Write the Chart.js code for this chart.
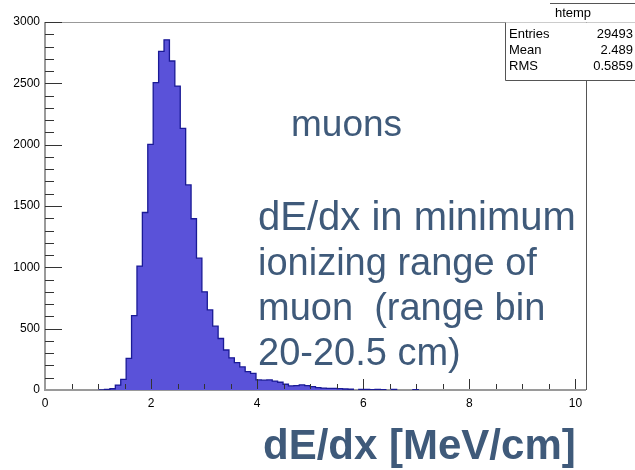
<!DOCTYPE html>
<html>
<head>
<meta charset="utf-8">
<script src="https://cdn.jsdelivr.net/npm/chart.js@4.4.1/dist/chart.umd.min.js"></script>
<style>
  body { margin: 0; background: #fff; }
  #wrap { width: 635px; height: 470px; position: relative; }
</style>
</head>
<body>
<div id="wrap"><canvas id="chart"></canvas></div>
<script>
// histogram htemp: 100 bins from 0 to 10.2
const xMin = 0;
const xMax = 10.2;
const nBins = 100;
const counts = [
    0, 0, 0, 0, 0, 0, 0, 0, 0, 0,
    1, 4, 10, 40, 87, 258, 606, 1010, 1447, 2002,
    2506, 2760, 2855, 2682, 2478, 2133, 1672, 1396, 1075, 800,
    653, 520, 420, 326, 262, 223, 188, 150, 136, 82,
    80, 82, 73, 63, 47, 33, 35, 41, 35, 27,
    19, 16, 14, 14, 11, 8, 6, 0, 4, 4,
    3, 4, 3, 0, 5, 0, 0, 0, 2, 0,
    0, 0, 0, 0, 0, 0, 0, 0, 0, 0,
    0, 0, 0, 0, 0, 0, 0, 0, 0, 0,
    0, 0, 0, 0, 0, 0, 0, 0, 0, 0
];
const xTicks = [0, 2, 4, 6, 8, 10];
const yTicks = [0, 500, 1000, 1500, 2000, 2500, 3000];
const statsRows = [['Entries', '29493'], ['Mean', '2.489'], ['RMS', '0.5859']];
const noteLines = ['dE/dx in minimum', 'ionizing range of', 'muon  (range bin', '20-20.5 cm)'];

const textColor = '#3f5a7a';
const fontFam = '"Liberation Sans", Arial, Helvetica, sans-serif';

// outline points: top of every filled bin, gaps where the bin is empty
const binW = (xMax - xMin) / nBins;
const outline = [];
counts.forEach((c, i) => {
    const lo = xMin + i * binW;
    const hi = lo + binW;
    if (c > 0) {
        if (i === 0 || counts[i - 1] === 0) outline.push({ x: lo, y: 0 });
        outline.push({ x: lo, y: c });
        outline.push({ x: hi, y: c });
        if (i === nBins - 1 || counts[i + 1] === 0) outline.push({ x: hi, y: 0 });
    } else if (outline.length) {
        outline.push({ x: lo, y: null });
    }
});

// frame, ROOT style ticks, stats box and notes
const rootDecor = {
    id: 'rootDecor',
    beforeDatasetsDraw(chart) {
        // axis lines go under the histogram
        const ctx = chart.ctx;
        const a = chart.chartArea;
        ctx.save();
        ctx.strokeStyle = '#9a9a9a';
        ctx.lineWidth = 2;
        ctx.beginPath();
        ctx.moveTo(a.left, a.top);
        ctx.lineTo(a.left, a.bottom);
        ctx.lineTo(a.right, a.bottom);
        ctx.stroke();
        ctx.restore();
    },
    afterDraw(chart) {
        const ctx = chart.ctx;
        const xs = chart.scales.x;
        const ys = chart.scales.y;
        const a = chart.chartArea;
        ctx.save();

        // frame
        ctx.lineWidth = 1;
        ctx.strokeStyle = '#999';
        ctx.beginPath();
        ctx.moveTo(a.left, a.top + 0.5);
        ctx.lineTo(635, a.top + 0.5);
        ctx.stroke();
        ctx.strokeStyle = '#555';
        ctx.beginPath();
        ctx.moveTo(a.right + 0.5, a.top);
        ctx.lineTo(a.right + 0.5, a.bottom);
        ctx.stroke();

        // y ticks every 100, long every 500
        ctx.strokeStyle = '#333';
        ctx.lineWidth = 1;
        ctx.beginPath();
        for (let v = 100; v <= 3000; v += 100) {
            const py = Math.round(ys.getPixelForValue(v)) + 0.5;
            const len = v % 500 === 0 ? 17 : 9;
            ctx.moveTo(a.left, py);
            ctx.lineTo(a.left + len, py);
        }
        // x ticks every 0.5, long every 2
        for (let k = 1; k <= 20; k++) {
            const v = k * 0.5;
            const px = Math.round(xs.getPixelForValue(v)) + 0.5;
            const len = k % 4 === 0 ? 11 : 6;
            ctx.moveTo(px, a.bottom - 1);
            ctx.lineTo(px, a.bottom - len);
        }
        ctx.stroke();

        // stats box
        const bx = 505, by = a.top + 0.5, bw = 130, bh = 58;
        ctx.fillStyle = '#fff';
        ctx.fillRect(bx, by, bw, bh);
        ctx.strokeStyle = '#555';
        ctx.beginPath();
        ctx.moveTo(bx + 0.5, by);
        ctx.lineTo(bx + 0.5, by + bh);
        ctx.lineTo(635, by + bh);
        ctx.moveTo(550, 3.5);
        ctx.lineTo(635, 3.5);
        ctx.stroke();
        ctx.fillStyle = '#000';
        ctx.font = '13px ' + fontFam;
        ctx.textBaseline = 'middle';
        ctx.textAlign = 'center';
        ctx.fillText('htemp', 573, 13);
        statsRows.forEach((row, i) => {
            const ty = by + 12 + i * 16;
            ctx.textAlign = 'left';
            ctx.fillText(row[0], bx + 4, ty);
            ctx.textAlign = 'right';
            ctx.fillText(row[1], 633, ty);
        });

        // notes
        ctx.fillStyle = textColor;
        ctx.textAlign = 'left';
        ctx.textBaseline = 'alphabetic';
        ctx.font = '37px ' + fontFam;
        ctx.fillText('muons', 291, 136);
        noteLines.forEach((line, i) => {
            ctx.font = (i === 0 ? '40px ' : '38px ') + fontFam;
            ctx.fillText(line, 258, 230 + i * 45);
        });
        ctx.font = 'bold 42px ' + fontFam;
        ctx.fillText('dE/dx [MeV/cm]', 263, 459);

        ctx.restore();
    }
};

const ctx = document.getElementById('chart').getContext('2d');
new Chart(ctx, {
    type: 'line',
    data: {
        datasets: [{
            label: 'htemp',
            data: outline,
            borderColor: '#1a1a96',
            backgroundColor: '#5a52d9',
            borderWidth: 1.3,
            pointRadius: 0,
            fill: 'origin',
            spanGaps: false,
            tension: 0
        }]
    },
    options: {
        responsive: true,
        maintainAspectRatio: false,
        devicePixelRatio: 1,
        animation: false,
        layout: { padding: { top: 22, right: 49, left: 0, bottom: 0 } },
        plugins: {
            legend: { display: false },
            tooltip: { enabled: false }
        },
        scales: {
            x: {
                type: 'linear',
                min: xMin,
                max: xMax,
                afterFit: scale => { scale.height = 80; },
                afterBuildTicks: scale => { scale.ticks = xTicks.map(v => ({ value: v })); },
                grid: { display: false, drawTicks: false },
                border: { display: false },
                ticks: {
                    padding: 6,
                    maxRotation: 0,
                    autoSkip: false,
                    color: '#000',
                    font: { family: fontFam, size: 12 },
                    callback: v => String(v)
                }
            },
            y: {
                min: 0,
                max: 3000,
                afterFit: scale => { scale.width = 45; },
                afterBuildTicks: scale => { scale.ticks = yTicks.map(v => ({ value: v })); },
                grid: { display: false, drawTicks: false },
                border: { display: false },
                ticks: {
                    padding: 5,
                    color: '#000',
                    font: { family: fontFam, size: 12 },
                    callback: v => String(v)
                }
            }
        }
    },
    plugins: [rootDecor]
});
</script>
</body>
</html>
